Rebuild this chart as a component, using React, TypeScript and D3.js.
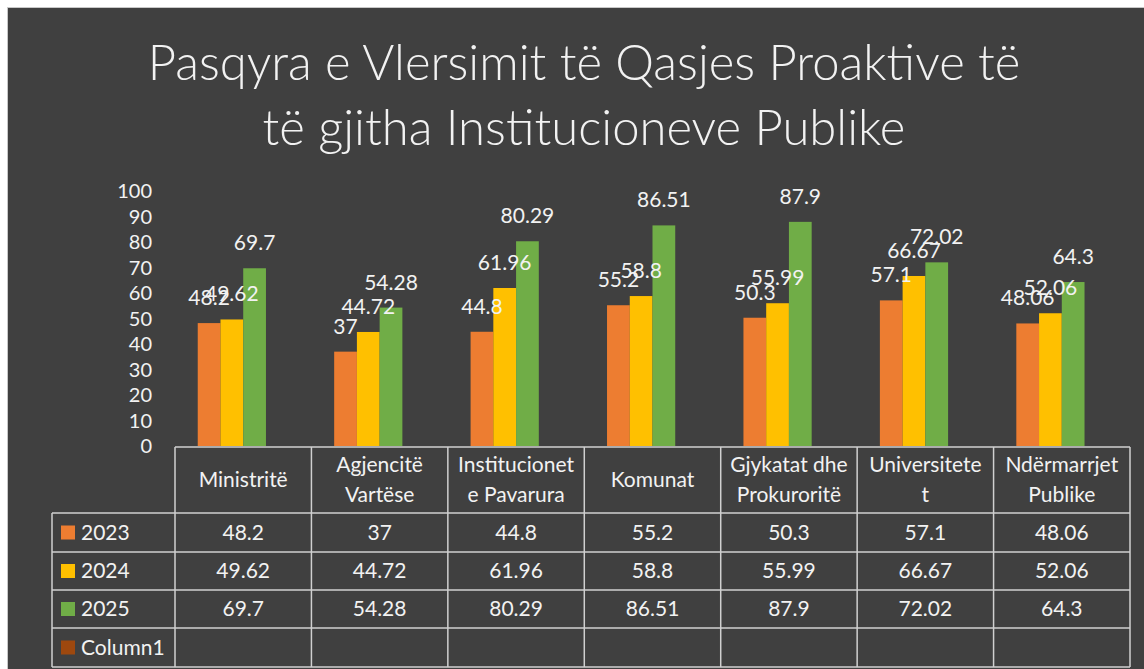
import * as d3 from 'd3';

const headerLines = [
  ['Ministritë'],
  ['Agjencitë', 'Vartëse'],
  ['Institucionet', 'e Pavarura'],
  ['Komunat'],
  ['Gjykatat dhe', 'Prokuroritë'],
  ['Universitete', 't'],
  ['Ndërmarrjet', 'Publike'],
];
const categories = headerLines.map((l) => l.join(' '));

const seriesNames = ['2023', '2024', '2025', 'Column1'];
const values2023 = [48.2, 37, 44.8, 55.2, 50.3, 57.1, 48.06];
const values2024 = [49.62, 44.72, 61.96, 58.8, 55.99, 66.67, 52.06];
const values2025 = [69.7, 54.28, 80.29, 86.51, 87.9, 72.02, 64.3];
const valuesColumn1: (number | null)[] = [null, null, null, null, null, null, null];
const seriesColors = ['#ED7D31', '#FFC000', '#70AD47', '#9E480E'];
const yTicks = [0, 10, 20, 30, 40, 50, 60, 70, 80, 90, 100];

const titleLines = [
  'Pasqyra e Vlersimit të Qasjes Proaktive të',
  'të gjitha Institucioneve Publike',
];

const W = 1144;
const H = 669;
const FONT = "Lato, 'Open Sans', sans-serif";
const TEXT = '#f2f2f2';
const GRID = '#d0d0d0';

export default function App() {
  const series = [values2023, values2024, values2025, valuesColumn1].map((values, i) => ({
    name: seriesNames[i],
    values,
    color: seriesColors[i],
  }));

  const tableLeft = 52;
  const x = d3.scaleBand<string>().domain(categories).range([175, 1130]);
  const x1 = d3.scaleBand<string>().domain(seriesNames).range([0, x.bandwidth()]).paddingOuter(1);
  const y = d3.scaleLinear().domain([0, 100]).range([446, 191]);

  const headerTop = 447;
  const rowEdges = [513, 552, 590, 628, 667];
  const colEdges = categories.map((c) => x(c)!).concat([x.range()[1]]);

  const points = series.flatMap((s) =>
    categories.map((c, i) => ({ s, c, v: s.values[i] })).filter((d) => d.v != null)
  ) as { s: (typeof series)[number]; c: string; v: number }[];

  return (
    <div style={{ position: 'fixed', left: 0, top: 0 }}>
      <svg width={W} height={H} style={{ display: 'block' }} fontFamily={FONT}>
        <rect x={0} y={0} width={W} height={H} fill="#fff" />
        <rect x={7.5} y={7.5} width={W} height={H} fill="#404040" stroke="#c8c8c8" strokeWidth={1} />

        {titleLines.map((t, i) => (
          <text key={i} x={584} y={80 + i * 65} textAnchor="middle" fill={TEXT} fontSize={49} fontWeight={300}>
            {t}
          </text>
        ))}

        {yTicks.map((t) => (
          <text key={t} x={152} y={y(t) + 7} textAnchor="end" fill={TEXT} fontSize={20}>
            {t}
          </text>
        ))}

        {points.map((d) => (
          <rect
            key={'b' + d.s.name + d.c}
            x={x(d.c)! + x1(d.s.name)!}
            y={y(d.v)}
            width={x1.bandwidth()}
            height={y(0) - y(d.v)}
            fill={d.s.color}
          />
        ))}
        {points.map((d) => (
          <text
            key={'l' + d.s.name + d.c}
            x={x(d.c)! + x1(d.s.name)! + x1.bandwidth() / 2}
            y={y(d.v) - 18}
            textAnchor="middle"
            fill={TEXT}
            fontSize={21}
          >
            {String(d.v)}
          </text>
        ))}

        {/* data table */}
        <g stroke={GRID} strokeWidth={1.5} fill="none">
          <line x1={colEdges[0]} x2={colEdges[colEdges.length - 1]} y1={headerTop} y2={headerTop} />
          {rowEdges.map((ry) => (
            <line key={ry} x1={tableLeft} x2={colEdges[colEdges.length - 1]} y1={ry} y2={ry} />
          ))}
          <line x1={tableLeft} x2={tableLeft} y1={rowEdges[0]} y2={rowEdges[rowEdges.length - 1]} />
          {colEdges.map((cx) => (
            <line key={cx} x1={cx} x2={cx} y1={headerTop} y2={rowEdges[rowEdges.length - 1]} />
          ))}
        </g>

        {headerLines.map((lines, i) => {
          const cx = x(categories[i])! + x.bandwidth() / 2;
          const mid = (headerTop + rowEdges[0]) / 2;
          return lines.map((l, j) => (
            <text
              key={i + '-' + j}
              x={cx}
              y={mid + 7 + (j - (lines.length - 1) / 2) * 30}
              textAnchor="middle"
              fill={TEXT}
              fontSize={21}
            >
              {l}
            </text>
          ));
        })}

        {series.map((s, r) => {
          const mid = (rowEdges[r] + rowEdges[r + 1]) / 2;
          return (
            <g key={s.name}>
              <rect x={61} y={mid - 7} width={14} height={14} fill={s.color} />
              <text x={81} y={mid + 7} fill={TEXT} fontSize={21}>
                {s.name}
              </text>
              {categories.map((c, i) =>
                s.values[i] == null ? null : (
                  <text
                    key={c}
                    x={x(c)! + x.bandwidth() / 2}
                    y={mid + 7}
                    textAnchor="middle"
                    fill={TEXT}
                    fontSize={21}
                  >
                    {String(s.values[i])}
                  </text>
                )
              )}
            </g>
          );
        })}
      </svg>
    </div>
  );
}
